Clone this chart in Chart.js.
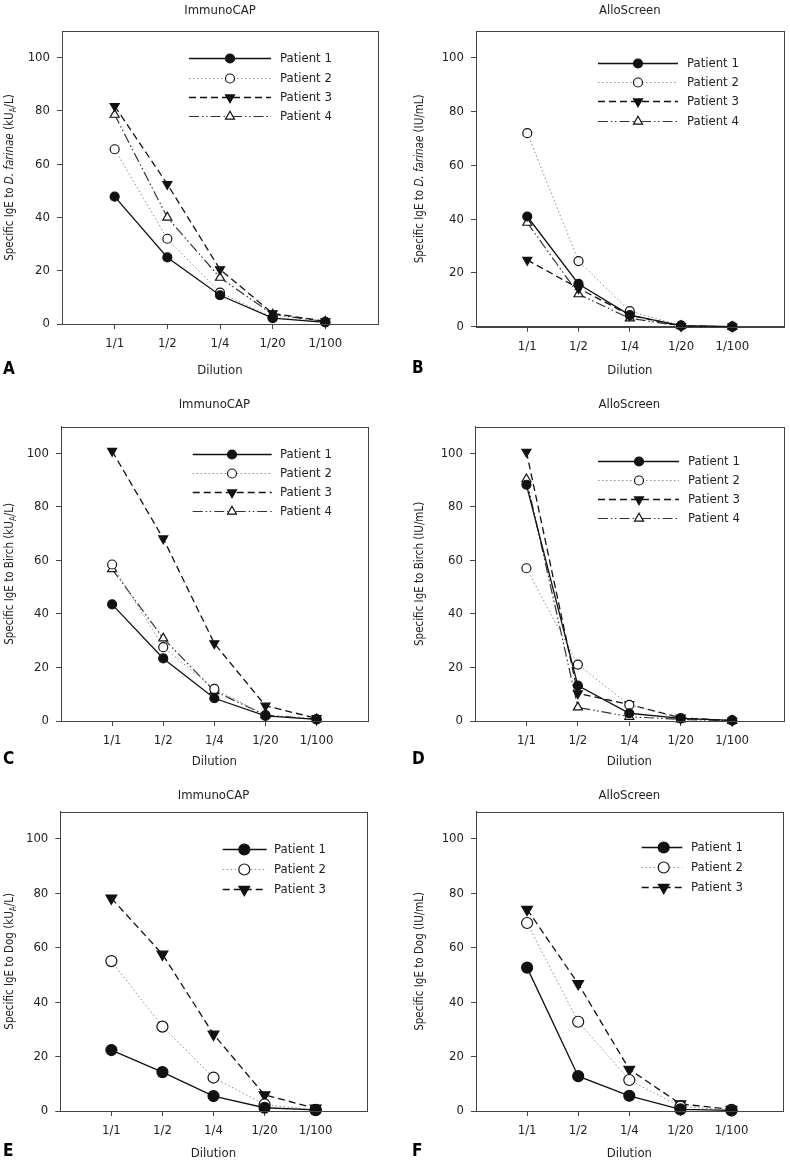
<!DOCTYPE html>
<html>
<head>
<meta charset="utf-8">
<script src="https://cdn.jsdelivr.net/npm/chart.js@4.4.1/dist/chart.umd.min.js"></script>
<style>
  body { margin: 0; background: #fff; }
  #figure { position: relative; width: 790px; height: 1163px; }
  #figure canvas { position: absolute; }
</style>
</head>
<body>
<div id="figure"></div>
<script>
const dilutions = ["1/1", "1/2", "1/4", "1/20", "1/100"];
const yTicks = [0, 20, 40, 60, 80, 100];
const patients = ["Patient 1", "Patient 2", "Patient 3", "Patient 4"];

// one row per patient, one value per dilution
const capFarinae = [
  [47.8, 25, 10.8, 2.2, 0.6],
  [65.6, 32, 11.8, 2.4, 0.8],
  [81.8, 52.5, 20.5, 4, 1],
  [78.6, 40, 17.4, 3.6, 0.9],
];
const alloFarinae = [
  [41, 15.9, 4.3, 0.4, 0],
  [72, 24.4, 5.8, 0.4, 0],
  [24.8, 14.3, 4.3, 0.2, 0],
  [38.7, 12.1, 3.1, 0.3, 0],
];
const capBirch = [
  [43.6, 23.4, 8.5, 1.9, 0.6],
  [58.5, 27.6, 12, 2.2, 0.6],
  [100.9, 68.2, 29, 5.7, 1],
  [56.8, 30.9, 11.2, 2.2, 0.7],
];
const alloBirch = [
  [88.3, 13.2, 2.9, 1, 0.2],
  [57.1, 21.1, 6, 1, 0.2],
  [100.6, 10.3, 6.2, 1.2, 0.1],
  [90.4, 5.1, 1.6, 0.6, 0.1],
];
const capDog = [
  [22.4, 14.3, 5.5, 1.2, 0.4],
  [55.1, 31, 12.3, 2.4, 0.3],
  [78.2, 57.6, 28.2, 5.9, 1],
];
const alloDog = [
  [52.7, 12.8, 5.6, 0.6, 0.2],
  [69.1, 32.8, 11.4, 1.6, 0.4],
  [74.1, 46.8, 15.3, 2.6, 0.6],
];

const FONT = '"Liberation Sans Narrow", "DejaVu Sans Condensed", "Arial Narrow", sans-serif';
const FS = 13;
const axisColor = "#444";
const textColor = "#222";
Chart.defaults.font.family = FONT;
Chart.defaults.color = textColor;

const rows = [{ top: 0, h: 385 }, { top: 385, h: 390 }, { top: 775, h: 388 }];
const cols = [0, 395];
const PANEL_W = 395;
const Y_AXIS_W = 62;

function lbl(allergen, unit) {
  const parts = [{ t: "Specific IgE to " }];
  if (allergen === "farinae") parts.push({ t: "D. farinae", i: true });
  else parts.push({ t: allergen });
  if (unit === "kUA") parts.push({ t: " (kU" }, { t: "A", sub: true }, { t: "/L)" });
  else parts.push({ t: " (IU/mL)" });
  return parts;
}

const panels = [
  { letter: "A", title: "ImmunoCAP", values: capFarinae, yLabel: lbl("farinae", "kUA"), col: 0, row: 0,
    area: [62, 31, 378, 324], titleY: 11, dilY: 371, letterX: 3, letterY: 370, yLabelX: 10,
    legend: { x1: 189, x2: 271, mx: 230, tx: 280, ys: [58, 78, 97, 116] }, big: false },
  { letter: "B", title: "AlloScreen", values: alloFarinae, yLabel: lbl("farinae", "IU"), col: 1, row: 0,
    area: [476, 31, 785, 326.7], titleY: 11, dilY: 371, letterX: 412, letterY: 369, yLabelX: 420,
    legend: { x1: 598, x2: 678, mx: 638, tx: 687, ys: [62.7, 82, 101, 120.7] }, big: false },
  { letter: "C", title: "ImmunoCAP", values: capBirch, yLabel: lbl("Birch", "kUA"), col: 0, row: 1,
    area: [61, 426.7, 367.7, 721], titleY: 405, dilY: 762, letterX: 3, letterY: 760, yLabelX: 10,
    legend: { x1: 192.7, x2: 271.7, mx: 232, tx: 280, ys: [454, 473, 492, 511] }, big: false },
  { letter: "D", title: "AlloScreen", values: alloBirch, yLabel: lbl("Birch", "IU"), col: 1, row: 1,
    area: [475, 426.7, 784, 721], titleY: 405, dilY: 762, letterX: 412, letterY: 760, yLabelX: 420,
    legend: { x1: 598, x2: 679, mx: 639, tx: 688, ys: [460.7, 479.7, 499, 518.3] }, big: false },
  { letter: "E", title: "ImmunoCAP", values: capDog, yLabel: lbl("Dog", "kUA"), col: 0, row: 2,
    area: [60.3, 811.7, 366.7, 1111], titleY: 796, dilY: 1154, letterX: 3, letterY: 1152, yLabelX: 10,
    legend: { x1: 222.7, x2: 266.7, mx: 244.3, tx: 274, ys: [849.3, 869.3, 888.7] }, big: true },
  { letter: "F", title: "AlloScreen", values: alloDog, yLabel: lbl("Dog", "IU"), col: 1, row: 2,
    area: [476, 811.7, 785.7, 1111], titleY: 796, dilY: 1154, letterX: 412, letterY: 1152, yLabelX: 420,
    legend: { x1: 641.7, x2: 682.3, mx: 663.7, tx: 691, ys: [847.3, 866.7, 886.7] }, big: true },
];

function seriesStyle(i, big) {
  const circleR = big ? 5.5 : 4.5;
  const triR = big ? 6.2 : 5.2;
  const styles = [
    { borderColor: "#111", borderWidth: 1.3, borderDash: [], pointStyle: "circle", pointRadius: circleR,
      pointBackgroundColor: "#111", pointBorderColor: "#111", pointRotation: 0 },
    { borderColor: "#8c8c8c", borderWidth: 1, borderDash: [1.5, 2.5], pointStyle: "circle", pointRadius: circleR,
      pointBackgroundColor: "#fff", pointBorderColor: "#111", pointRotation: 0 },
    { borderColor: "#111", borderWidth: 1.3, borderDash: [7, 4], pointStyle: "triangle", pointRadius: triR,
      pointBackgroundColor: "#111", pointBorderColor: "#111", pointRotation: 180 },
    { borderColor: "#333", borderWidth: 1.2, borderDash: [10, 3, 1.5, 2.5, 1.5, 3], pointStyle: "triangle", pointRadius: triR,
      pointBackgroundColor: "#fff", pointBorderColor: "#111", pointRotation: 0 },
  ];
  return Object.assign({ pointBorderWidth: 1.2, tension: 0, clip: false, fill: false }, styles[i]);
}

// frame, titles, rich y label, panel letter and the legend
const panelDecor = {
  id: "panelDecor",
  afterDraw(chart, args, p) {
    const ctx = chart.ctx;
    const ox = cols[p.col], oy = rows[p.row].top;
    const a = chart.chartArea;
    ctx.save();
    ctx.strokeStyle = axisColor;
    ctx.lineWidth = 1;
    ctx.setLineDash([]);
    ctx.strokeRect(Math.round(a.left) + 0.5, Math.round(a.top) + 0.5,
      Math.round(a.right) - Math.round(a.left), Math.round(a.bottom) - Math.round(a.top));

    ctx.fillStyle = textColor;
    ctx.textBaseline = "middle";
    ctx.textAlign = "center";
    ctx.font = FS + "px " + FONT;
    ctx.fillText(p.title, (a.left + a.right) / 2, p.titleY - oy);

    ctx.textAlign = "left";
    ctx.font = "bold 17px " + FONT;
    ctx.fillStyle = "#000";
    ctx.fillText(p.letter, p.letterX - ox, p.letterY - oy);

    // rotated y axis label with italic and subscript runs
    ctx.fillStyle = textColor;
    const fontOf = (s) => s.sub ? "8px " + FONT : (s.i ? "italic 11.5px " : "11.5px ") + FONT;
    let total = 0;
    p.yLabel.forEach((s) => { ctx.font = fontOf(s); total += ctx.measureText(s.t).width; });
    ctx.translate(p.yLabelX - ox, (a.top + a.bottom) / 2);
    ctx.rotate(-Math.PI / 2);
    let x = -total / 2;
    p.yLabel.forEach((s) => {
      ctx.font = fontOf(s);
      ctx.fillText(s.t, x, s.sub ? 3.5 : 0);
      x += ctx.measureText(s.t).width;
    });
    ctx.setTransform(1, 0, 0, 1, 0, 0);

    const lg = p.legend;
    chart.data.datasets.forEach((ds, i) => {
      const y = Math.round(lg.ys[i] - oy) + 0.5;
      ctx.strokeStyle = ds.borderColor;
      ctx.lineWidth = ds.borderWidth;
      ctx.setLineDash(ds.borderDash);
      ctx.beginPath();
      ctx.moveTo(lg.x1 - ox, y);
      ctx.lineTo(lg.x2 - ox, y);
      ctx.stroke();
      ctx.setLineDash([]);
      ctx.fillStyle = ds.pointBackgroundColor;
      ctx.strokeStyle = ds.pointBorderColor;
      ctx.lineWidth = ds.pointBorderWidth;
      Chart.helpers.drawPoint(ctx, { pointStyle: ds.pointStyle, rotation: ds.pointRotation,
        radius: ds.pointRadius, borderWidth: ds.pointBorderWidth }, lg.mx - ox, y);
      ctx.fillStyle = textColor;
      ctx.font = FS + "px " + FONT;
      ctx.textAlign = "left";
      ctx.fillText(ds.label, lg.tx - ox, y);
    });
    ctx.restore();
  },
};

const fig = document.getElementById("figure");

function makeChart(p) {
  const ox = cols[p.col], oy = rows[p.row].top, h = rows[p.row].h;
  const [L, T, R, B] = p.area;
  const canvas = document.createElement("canvas");
  canvas.width = PANEL_W;
  canvas.height = h;
  canvas.style.left = ox + "px";
  canvas.style.top = oy + "px";
  fig.appendChild(canvas);

  const datasets = p.values.map((vals, i) => Object.assign({
    label: patients[i],
    data: vals.map((v, k) => ({ x: k, y: v })),
  }, seriesStyle(i, p.big)));

  new Chart(canvas, {
    type: "line",
    data: { datasets },
    plugins: [panelDecor],
    options: {
      responsive: false,
      animation: false,
      events: [],
      layout: { padding: { left: L - ox - Y_AXIS_W, top: T - oy, right: ox + PANEL_W - R, bottom: 0 } },
      plugins: { legend: { display: false }, tooltip: { enabled: false }, panelDecor: p },
      scales: {
        x: {
          type: "linear", min: -1, max: 5,
          afterBuildTicks: (s) => { s.ticks = dilutions.map((d, k) => ({ value: k })); },
          afterFit: (s) => { s.height = oy + h - B; },
          ticks: { callback: (v) => dilutions[v], font: { size: FS }, padding: 7, maxRotation: 0, autoSkip: false },
          grid: { drawOnChartArea: false, drawTicks: true, tickLength: 5, color: axisColor },
          border: { color: axisColor, width: 1 },
          title: { display: true, text: "Dilution", font: { size: FS },
            padding: { top: 0, bottom: oy + h - FS * 0.6 - p.dilY } },
        },
        y: {
          min: 0, max: 110,
          afterBuildTicks: (s) => { s.ticks = yTicks.map((v) => ({ value: v })); },
          afterFit: (s) => { s.width = Y_AXIS_W; },
          ticks: { font: { size: FS }, padding: 7 },
          grid: { drawOnChartArea: false, drawTicks: true, tickLength: 5, color: axisColor },
          border: { color: axisColor, width: 1 },
        },
      },
    },
  });
}

panels.forEach(makeChart);
</script>
</body>
</html>
